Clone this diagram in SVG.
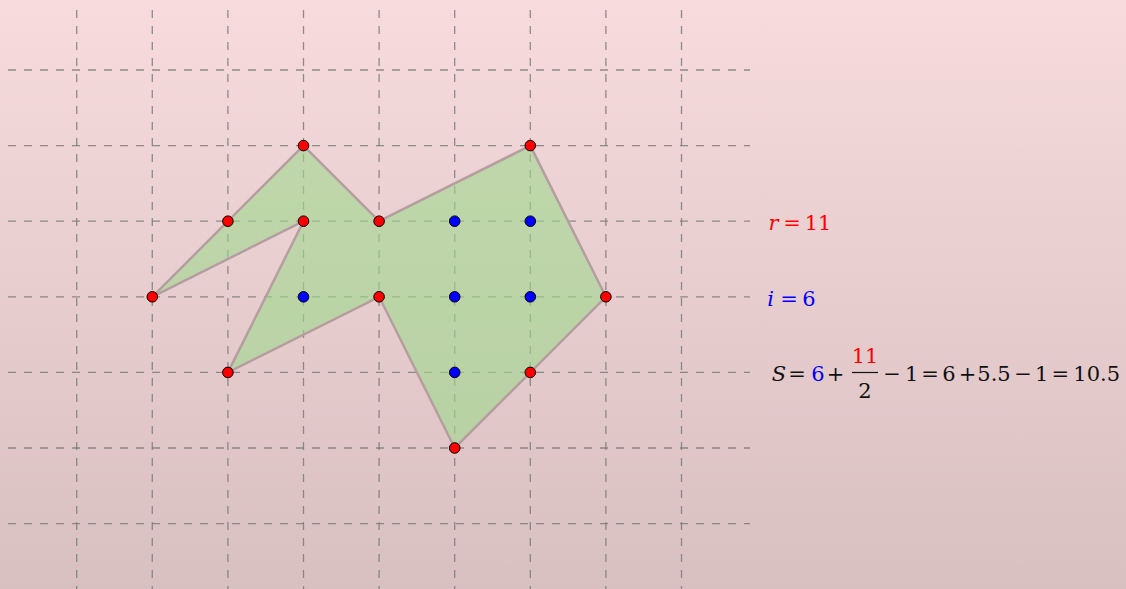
<svg xmlns="http://www.w3.org/2000/svg" width="1126" height="589" viewBox="0 0 1126 589">
<defs>
<linearGradient id="bg" x1="0" y1="0" x2="0" y2="1">
<stop offset="0" stop-color="#f7dbdd"/>
<stop offset="1" stop-color="#d8bfc0"/>
</linearGradient>
</defs>
<style>
.g{stroke:#7d7d7d;stroke-opacity:0.85;stroke-width:1.3;stroke-dasharray:8 8;fill:none}
.poly{fill:#9fd98c;fill-opacity:0.6;stroke:#b59ea0;stroke-width:2.5;stroke-linejoin:round}
.r{fill:#ff0000;stroke:#000;stroke-width:1}
.b{fill:#0000ff;stroke:#000;stroke-width:1}
text{font-family:"DejaVu Serif","Liberation Serif",serif;font-size:21px;text-anchor:middle}
.it{font-style:italic}
.red{fill:#ff0000}
.blue{fill:#0000ff}
.blk{fill:#111}
</style>
<rect width="1126" height="589" fill="url(#bg)"/>
<g id="grid">
<line class="g" x1="76.7" y1="10" x2="76.7" y2="589"/>
<line class="g" x1="152.3" y1="10" x2="152.3" y2="589"/>
<line class="g" x1="227.9" y1="10" x2="227.9" y2="589"/>
<line class="g" x1="303.5" y1="10" x2="303.5" y2="589"/>
<line class="g" x1="379.1" y1="10" x2="379.1" y2="589"/>
<line class="g" x1="454.7" y1="10" x2="454.7" y2="589"/>
<line class="g" x1="530.3" y1="10" x2="530.3" y2="589"/>
<line class="g" x1="605.9" y1="10" x2="605.9" y2="589"/>
<line class="g" x1="681.5" y1="10" x2="681.5" y2="589"/>
<line class="g" x1="8" y1="70" x2="750" y2="70"/>
<line class="g" x1="8" y1="145.6" x2="750" y2="145.6"/>
<line class="g" x1="8" y1="221.2" x2="750" y2="221.2"/>
<line class="g" x1="8" y1="296.8" x2="750" y2="296.8"/>
<line class="g" x1="8" y1="372.4" x2="750" y2="372.4"/>
<line class="g" x1="8" y1="448" x2="750" y2="448"/>
<line class="g" x1="8" y1="523.6" x2="750" y2="523.6"/>
</g>
<g id="polygon">
<polygon class="poly" points="152.3,296.8 303.5,145.6 379.1,221.2 530.3,145.6 605.9,296.8 454.7,448 379.1,296.8 227.9,372.4 303.5,221.2"/>
</g>
<g id="boundary-points">
<circle class="r" cx="152.3" cy="296.8" r="5.3"/>
<circle class="r" cx="227.9" cy="221.2" r="5.3"/>
<circle class="r" cx="303.5" cy="145.6" r="5.3"/>
<circle class="r" cx="379.1" cy="221.2" r="5.3"/>
<circle class="r" cx="530.3" cy="145.6" r="5.3"/>
<circle class="r" cx="605.9" cy="296.8" r="5.3"/>
<circle class="r" cx="530.3" cy="372.4" r="5.3"/>
<circle class="r" cx="454.7" cy="448" r="5.3"/>
<circle class="r" cx="379.1" cy="296.8" r="5.3"/>
<circle class="r" cx="227.9" cy="372.4" r="5.3"/>
<circle class="r" cx="303.5" cy="221.2" r="5.3"/>
</g>
<g id="interior-points">
<circle class="b" cx="454.7" cy="221.2" r="5.3"/>
<circle class="b" cx="530.3" cy="221.2" r="5.3"/>
<circle class="b" cx="303.5" cy="296.8" r="5.3"/>
<circle class="b" cx="454.7" cy="296.8" r="5.3"/>
<circle class="b" cx="530.3" cy="296.8" r="5.3"/>
<circle class="b" cx="454.7" cy="372.4" r="5.3"/>
</g>
<g id="label-r">
<text class="red it" x="773.5" y="230">r</text>
<text class="red" x="792" y="230">=</text>
<text class="red" x="818" y="230">11</text>
</g>
<g id="label-i">
<text class="blue it" x="770.5" y="306">i</text>
<text class="blue" x="789" y="306">=</text>
<text class="blue" x="809" y="306">6</text>
</g>
<g id="formula">
<text class="blk it" x="779" y="381">S</text>
<text class="blk" x="797" y="381">=</text>
<text class="blue" x="818" y="381">6</text>
<text class="blk" x="835.5" y="381">+</text>
<text class="red" x="865" y="363">11</text>
<line x1="852" y1="372.5" x2="878" y2="372.5" stroke="#111" stroke-width="1.2"/>
<text class="blk" x="865" y="398">2</text>
<text class="blk" x="892" y="381">−</text>
<text class="blk" x="911.7" y="381">1</text>
<text class="blk" x="930" y="381">=</text>
<text class="blk" x="949" y="381">6</text>
<text class="blk" x="967.5" y="381">+</text>
<text class="blk" x="994" y="381">5.5</text>
<text class="blk" x="1023" y="381">−</text>
<text class="blk" x="1041.7" y="381">1</text>
<text class="blk" x="1060.3" y="381">=</text>
<text class="blk" x="1096.7" y="381">10.5</text>
</g>
</svg>
